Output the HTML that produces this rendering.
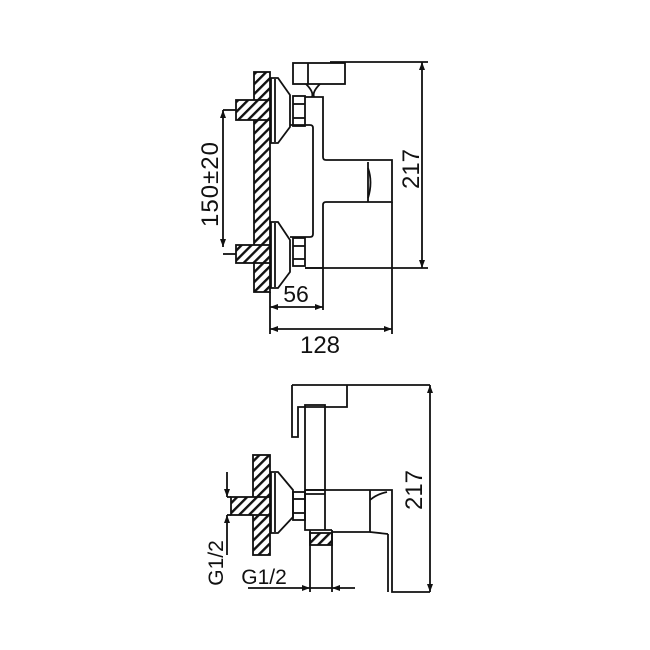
<!DOCTYPE html>
<html><head><meta charset="utf-8"><style>html,body{margin:0;padding:0;background:#fff}svg{display:block}</style></head>
<body>
<svg width="650" height="650" viewBox="0 0 650 650" xmlns="http://www.w3.org/2000/svg" font-family="Liberation Sans, sans-serif">
<defs>
<pattern id="h" patternUnits="userSpaceOnUse" width="7" height="7" patternTransform="rotate(45)">
<rect width="7" height="7" fill="#fff"/><rect width="2.4" height="7" fill="#111"/>
</pattern>
<marker id="a" markerWidth="8" markerHeight="6" refX="8" refY="3" orient="auto-start-reverse" markerUnits="userSpaceOnUse"><path d="M0,0 L8,3 L0,6z" fill="#111"/></marker>
</defs>
<g fill="none" stroke="#111" stroke-width="1.8">
<!-- TOP VIEW -->
<rect x="254" y="72" width="16" height="220" fill="url(#h)"/>
<rect x="236" y="100" width="34" height="20" fill="url(#h)"/>
<rect x="236" y="245" width="34" height="18" fill="url(#h)"/>
<path d="M271,78 L278,78 L290,95 L290,127 L278,143 L271,143 Z" fill="#fff"/>
<line x1="275" y1="79" x2="275" y2="142"/>
<path d="M271,222 L278,222 L290,240 L290,272 L278,288 L271,288 Z" fill="#fff"/>
<line x1="275" y1="223" x2="275" y2="287"/>
<rect x="293" y="96" width="12" height="30"/>
<line x1="293" y1="104" x2="305" y2="104"/><line x1="293" y1="118" x2="305" y2="118"/>
<rect x="293" y="238" width="12" height="28"/>
<line x1="293" y1="246" x2="305" y2="246"/><line x1="293" y1="259" x2="305" y2="259"/>
<path d="M305,97 L323,97 L323,157 Q323,160 326,160 L392,160 L392,202 L326,202 Q323,202 323,205 L323,268 L305,268"/>
<path d="M290,125 L310,125 Q313,125 313,128 L313,234 Q313,237 310,237 L290,237"/>
<line x1="368" y1="162" x2="368" y2="202"/>
<path d="M368,168 Q373,182 368,198"/>
<rect x="293" y="63" width="52" height="21" fill="#fff"/>
<path d="M306,84 Q314,92 312,97 M320,84 Q312,92 314,97"/>
<line x1="308" y1="63" x2="308" y2="84"/>
<!-- dims top -->
<line x1="330" y1="62" x2="428" y2="62"/>
<line x1="305" y1="268" x2="428" y2="268"/>
<line x1="422" y1="62" x2="422" y2="268" marker-start="url(#a)" marker-end="url(#a)"/>
<line x1="270" y1="292" x2="270" y2="334"/>
<line x1="323" y1="268" x2="323" y2="310"/>
<line x1="392" y1="202" x2="392" y2="334"/>
<line x1="270" y1="307" x2="323" y2="307" marker-start="url(#a)" marker-end="url(#a)"/>
<line x1="270" y1="329" x2="392" y2="329" marker-start="url(#a)" marker-end="url(#a)"/>
<line x1="223" y1="110" x2="223" y2="247" marker-start="url(#a)" marker-end="url(#a)"/>
<line x1="223" y1="110" x2="236" y2="110"/><line x1="223" y1="254" x2="236" y2="254"/>
<!-- BOTTOM VIEW -->
<rect x="253" y="455" width="17" height="100" fill="url(#h)"/>
<rect x="231" y="497" width="39" height="18" fill="url(#h)"/>
<path d="M271,472 L278,472 L293,490 L293,517 L278,533 L271,533 Z" fill="#fff"/>
<line x1="275" y1="473" x2="275" y2="532"/>
<rect x="293" y="492" width="12" height="28"/>
<line x1="293" y1="499" x2="305" y2="499"/><line x1="293" y1="513" x2="305" y2="513"/>
<path d="M292,385 L430,385 M292,385 L292,437 L298,437 L298,407 L347,407 L347,385"/>
<rect x="305" y="405" width="20" height="85"/>
<line x1="305" y1="494" x2="325" y2="494"/>
<path d="M305,490 L370,490 L392,490 L392,592 L430,592"/>
<path d="M305,490 L305,530 L332,530"/>
<line x1="325" y1="490" x2="325" y2="530"/>
<path d="M370,490 L370,532 L332,532"/>
<path d="M370,500 Q377,494 387,492"/>
<line x1="388" y1="534" x2="388" y2="592"/>
<line x1="370" y1="532" x2="388" y2="534"/>
<rect x="310" y="533" width="22" height="12" fill="url(#h)"/>
<line x1="310" y1="530" x2="310" y2="592"/><line x1="332" y1="530" x2="332" y2="592"/>
<line x1="430" y1="385" x2="430" y2="592" marker-start="url(#a)" marker-end="url(#a)"/>
<line x1="227" y1="472" x2="227" y2="497" marker-end="url(#a)"/>
<line x1="227" y1="540" x2="227" y2="515" marker-end="url(#a)"/>
<line x1="227" y1="515" x2="231" y2="515"/><line x1="227" y1="497" x2="231" y2="497"/>
<line x1="227" y1="540" x2="227" y2="555"/>
<line x1="248" y1="588" x2="310" y2="588" marker-end="url(#a)"/>
<line x1="355" y1="588" x2="332" y2="588" marker-end="url(#a)"/>
<line x1="310" y1="588" x2="332" y2="588"/>
</g>
<g fill="#111" font-size="24">
<text x="296" y="302" text-anchor="middle" font-size="23">56</text>
<text x="320" y="353" text-anchor="middle">128</text>
<text transform="translate(218,184) rotate(-90)" text-anchor="middle" letter-spacing="1">150±20</text>
<text transform="translate(419,169) rotate(-90)" text-anchor="middle">217</text>
<text transform="translate(422,490) rotate(-90)" text-anchor="middle">217</text>
<text transform="translate(223,563) rotate(-90)" text-anchor="middle" font-size="21">G1/2</text>
<text x="264" y="584" text-anchor="middle" font-size="21">G1/2</text>
</g>
</svg>
</body></html>
